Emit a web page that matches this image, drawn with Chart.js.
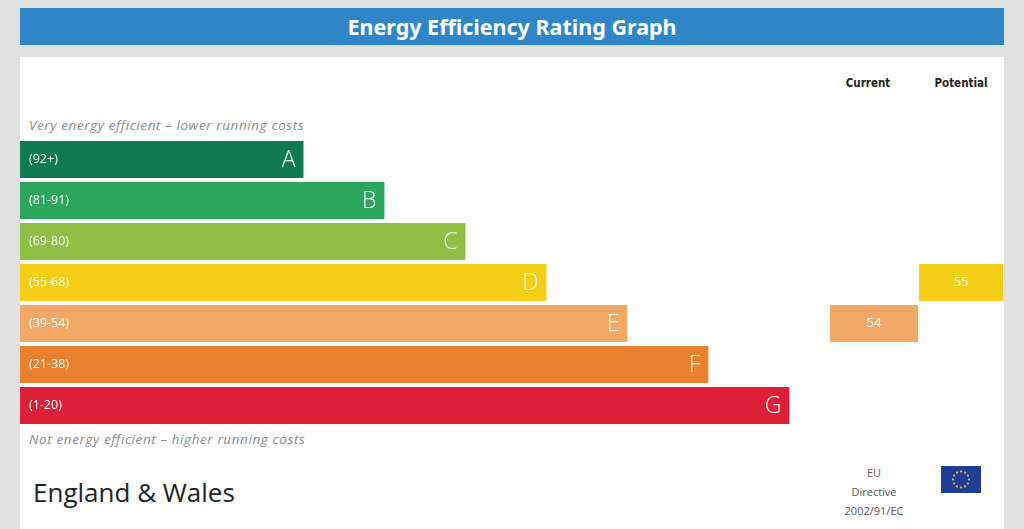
<!DOCTYPE html>
<html>
<head>
<meta charset="utf-8">
<script src="https://cdn.jsdelivr.net/npm/chart.js@4.4.0/dist/chart.umd.min.js"></script>
<style>
  body { margin: 0; background: #e1e1e1; width: 1024px; height: 529px; overflow: hidden; position: relative; font-family: "Open Sans", sans-serif; }
  .title { position: absolute; left: 20px; top: 8px; width: 984px; height: 37px; background: #2e86c8; color: #fff;
           font: bold 21.5px "Noto Sans", sans-serif; text-align: center; line-height: 37px; }
  .panel { position: absolute; left: 20px; top: 57px; width: 984px; height: 472px; background: #fff; }
  .txt { position: absolute; white-space: nowrap; }
  .head { font: bold 11.5px "DejaVu Sans Condensed", "Noto Sans", sans-serif; color: #222; transform: translateX(-50%); }
  .note { font: italic 13.5px "Open Sans", sans-serif; letter-spacing: 0.6px; color: #8a8a8a; left: 29px; }
  .eu { font: 11px "Open Sans", sans-serif; color: #555; transform: translateX(-50%); }
  canvas { position: absolute; left: 0; top: 0; }
</style>
</head>
<body>
<div class="title">Energy Efficiency Rating Graph</div>
<div class="panel"></div>
<div class="txt head" style="left:868px; top:76px;">Current</div>
<div class="txt head" style="left:961px; top:76px;">Potential</div>
<div class="txt note" style="top:116px;">Very energy efficient – lower running costs</div>
<div class="txt note" style="top:430px;">Not energy efficient – higher running costs</div>
<div class="txt" style="left:33px; top:474px; font: 26px 'Open Sans', sans-serif; color:#222;">England &amp; Wales</div>
<div class="txt eu" style="left:874px; top:465px;">EU</div>
<div class="txt eu" style="left:874px; top:484px;">Directive</div>
<div class="txt eu" style="left:874px; top:503px;">2002/91/EC</div>
<svg class="txt" style="left:941px; top:466px;" width="40" height="27" viewBox="0 0 40 27">
  <rect x="0" y="0" width="40" height="27" fill="#1f3d94"/>
  <g id="stars" fill="#f4d21a"></g>
</svg>
<canvas id="epc" width="1024" height="529"></canvas>
<script>
// flag stars
const stars = document.getElementById('stars');
for (let i = 0; i < 12; i++) {
    const a = i * Math.PI / 6;
    const c = document.createElementNS('http://www.w3.org/2000/svg', 'circle');
    c.setAttribute('cx', 20 + 8 * Math.sin(a));
    c.setAttribute('cy', 13.5 - 8 * Math.cos(a));
    c.setAttribute('r', 1.1);
    stars.appendChild(c);
}

const bands = ['A', 'B', 'C', 'D', 'E', 'F', 'G'];
const ranges = ['(92+)', '(81-91)', '(69-80)', '(55-68)', '(39-54)', '(21-38)', '(1-20)'];
const bandMin = [92, 81, 69, 55, 39, 21, 1];
const barLength = [3.5, 4.5, 5.5, 6.5, 7.5, 8.5, 9.5];
const colors = ['#107b52', '#2ba55b', '#8fbe44', '#f6cd17', '#f2a867', '#e9822f', '#de1f38'];

const currentScore = 54;
const potentialScore = 55;

// column spans on the x axis
const currentCol = [10.0, 11.09];
const potentialCol = [11.1, 12.14];

function bandOf(score) {
    return bandMin.findIndex(m => score >= m);
}

const currentData = bands.map((b, i) => i === bandOf(currentScore) ? currentCol : null);
const potentialData = bands.map((b, i) => i === bandOf(potentialScore) ? potentialCol : null);

const labelPlugin = {
    id: 'epcLabels',
    afterDatasetsDraw(chart) {
        const ctx = chart.ctx;
        ctx.save();
        ctx.fillStyle = '#fff';
        ctx.textBaseline = 'middle';
        chart.getDatasetMeta(0).data.forEach((bar, i) => {
            const left = Math.min(bar.x, bar.base);
            const right = Math.max(bar.x, bar.base);
            ctx.font = '12.5px "Open Sans", sans-serif';
            ctx.textAlign = 'left';
            ctx.fillText(ranges[i], left + 9, bar.y);
            ctx.font = '300 23px "Open Sans", sans-serif';
            ctx.textAlign = 'right';
            ctx.fillText(bands[i], right - 8, bar.y + 1);
        });
        [[1, currentScore], [2, potentialScore]].forEach(([d, score]) => {
            const bar = chart.getDatasetMeta(d).data[bandOf(score)];
            ctx.font = '13px "Open Sans", sans-serif';
            ctx.textAlign = 'center';
            ctx.fillText(String(score), (bar.x + bar.base) / 2, bar.y);
        });
        ctx.restore();
    }
};

new Chart(document.getElementById('epc'), {
    type: 'bar',
    data: {
        labels: bands,
        datasets: [
            { label: 'Rating', data: barLength, backgroundColor: colors, grouped: false },
            { label: 'Current', data: currentData, backgroundColor: colors, grouped: false },
            { label: 'Potential', data: potentialData, backgroundColor: colors, grouped: false }
        ]
    },
    options: {
        indexAxis: 'y',
        responsive: false,
        animation: false,
        devicePixelRatio: 1,
        barPercentage: 0.9,
        categoryPercentage: 1,
        layout: { padding: { left: 20, right: 20, top: 139, bottom: 103 } },
        scales: {
            x: { display: false, min: 0, max: 12.15 },
            y: { display: false }
        },
        plugins: { legend: { display: false }, tooltip: { enabled: false } }
    },
    plugins: [labelPlugin]
});
</script>
</body>
</html>
